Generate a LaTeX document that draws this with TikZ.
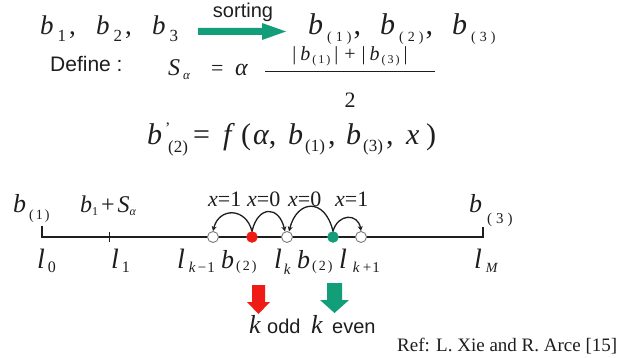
\documentclass[tikz,border=0pt]{standalone}
\usepackage{fontspec}
\setmainfont{Liberation Serif}
\newfontfamily\sansfont{Liberation Sans}
\usetikzlibrary{arrows.meta,positioning,calc}
\definecolor{Teal}{HTML}{119E78}
\definecolor{Signal}{HTML}{EE1C14}
\definecolor{Ring}{HTML}{7A7A7A}
\definecolor{Ink}{HTML}{1E1E1E}
\newcommand{\fsz}[1]{\fontsize{#1}{#1}\selectfont}
\newcommand{\dropsub}[3]{\raisebox{-#1pt}{\fsz{#2}#3}}
\tikzset{
  txt/.style={inner sep=0pt,anchor=base west,text=Ink},
  big/.style={txt,font=\fsz{30}},
  axis/.style={draw=Ink,line width=1.5pt},
  tick/.style={draw=Ink,line width=1pt},
  hole/.style={circle,draw=Ring,fill=white,line width=.9pt,minimum size=11pt,inner sep=0pt},
  oddpt/.style={circle,draw=Signal,fill=Signal,minimum size=11pt,inner sep=0pt},
  evenpt/.style={circle,draw=Teal,fill=Teal,minimum size=11pt,inner sep=0pt},
  hop/.style={-{Stealth[length=5pt,width=5pt]},draw=Ink,line width=1.3pt},
  fracbar/.style={draw=Ink,line width=.9pt}
}

\begin{document}
\begin{tikzpicture}[x=1pt,y=-1pt]
  \useasboundingbox[fill=white] (0,0) rectangle (621,358);

  % sorting step
  \node[txt,font=\fsz{27}] (b1) at (40,35) {\textit{b}\hspace{4pt}\dropsub{7}{17}{1}\hspace{3pt},};
  \node[txt,font=\fsz{27}] (b2) at (96,35) {\textit{b}\hspace{4pt}\dropsub{7}{17}{2}\hspace{3pt},};
  \node[txt,font=\fsz{27}] (b3) at (152,35) {\textit{b}\hspace{4pt}\dropsub{7}{17}{3}};
  \fill[Teal] (198,28) -- (262,28) -- (262,23) -- (286,31.5) -- (262,40) -- (262,35) -- (198,35) -- cycle;
  \node[txt,anchor=base,font=\sansfont\fsz{20}] (sorting) at (243,18) {sorting};
  \node[txt,font=\fsz{30}] (s1) at (308,35) {\textit{b}\hspace{4pt}\dropsub{7}{14}{(\hspace{4pt}1\hspace{4pt})}\hspace{2pt},};
  \node[txt,font=\fsz{30}] (s2) at (380,35) {\textit{b}\hspace{4pt}\dropsub{7}{14}{(\hspace{4pt}2\hspace{4pt})}\hspace{2pt},};
  \node[txt,font=\fsz{30}] (s3) at (452,35) {\textit{b}\hspace{4pt}\dropsub{7}{14}{(\hspace{4pt}3\hspace{4pt})}};

  % step size
  \node[txt,font=\sansfont\fsz{21}] (define) at (50,72) {Define :};
  \node[txt,font=\fsz{24}] (S) at (168,76) {\textit{S}\hspace{3pt}\dropsub{4}{13}{\textit{α}}};
  \node[txt,font=\fsz{22}] (eq1) at (211,76) {=};
  \node[txt,font=\fsz{24}] (alpha) at (235,76) {\textit{α}};
  \coordinate (barL) at (265,71);
  \coordinate (barR) at (435,71);
  \draw[fracbar] (barL) -- (barR);
  \node[txt,anchor=base,font=\fsz{20}] (num) at (350,61) {|\hspace{4pt}\textit{b}\hspace{2pt}\dropsub{3}{12}{(\hspace{2pt}1\hspace{2pt})}\hspace{4pt}|\hspace{6pt}+\hspace{6pt}|\hspace{4pt}\textit{b}\hspace{2pt}\dropsub{3}{12}{(\hspace{2pt}3\hspace{2pt})}\hspace{4pt}|};
  \node[txt,anchor=base,font=\fsz{22}] (den) at (350,108) {2};

  % new value
  \node[big] (bn) at (147,145) {\textit{b}};
  \node[txt,font=\fsz{16}] (prime) at (165,134) {'};
  \node[txt,font=\fsz{17}] (bnsub) at (168,153) {(2)};
  \node[big] (eq2) at (193,145) {=};
  \node[big] (fn) at (223,145) {\textit{f}};
  \node[big] (lpar) at (241,145) {(};
  \node[big] (fa) at (253,145) {\textit{α},};
  \node[big] (fb1) at (288,145) {\textit{b}\hspace{2pt}\dropsub{7}{17}{(1)}\hspace{3pt},};
  \node[big] (fb3) at (346,145) {\textit{b}\hspace{2pt}\dropsub{7}{17}{(3)}\hspace{3pt},};
  \node[big] (fx) at (406,145) {\textit{x}};
  \node[big] (rpar) at (426,145) {)};

  % number line
  \coordinate (l0) at (42,237);
  \coordinate (l0top) at (42,226);
  \coordinate (lM) at (483,237);
  \coordinate (lMtop) at (483,227);
  \coordinate (l1top) at (109,232);
  \coordinate (l1bot) at (109,242);
  \draw[axis] (l0top) -- (l0) -- (lM) -- (lMtop);
  \draw[tick] (l1top) -- (l1bot);
  \node[hole] (lkm) at (213,237) {};
  \node[oddpt] (bodd) at (252,237) {};
  \node[hole] (lk) at (287,237) {};
  \node[evenpt] (beven) at (333,237) {};
  \node[hole] (lkp) at (361,237) {};
  \draw[hop] (bodd.north) .. controls +(-6,-24) and +(6,-24) .. (lkm.north);
  \draw[hop] (bodd.north) .. controls +(6,-26) and +(-6,-26) .. (lk.110);
  \draw[hop] (beven.north) .. controls +(-8,-34) and +(8,-32) .. (lk.70);
  \draw[hop] (beven.north) .. controls +(5,-18) and +(-3,-18) .. (lkp.north);

  \node[txt,font=\fsz{22}] (xa) at (208,207) {\textit{x}=1};
  \node[txt,font=\fsz{22}] (xb) at (247,207) {\textit{x}=0};
  \node[txt,font=\fsz{22}] (xc) at (288,207) {\textit{x}=0};
  \node[txt,font=\fsz{22}] (xd) at (335,207) {\textit{x}=1};

  \node[txt,font=\fsz{26}] (lab0) at (13,212) {\textit{b}\hspace{3pt}\dropsub{8}{14}{(\hspace{2pt}1\hspace{2pt})}};
  \node[txt,font=\fsz{24}] (lab1) at (80,212) {\textit{b}\dropsub{3}{12}{1}\hspace{3pt}+\hspace{3pt}\textit{S}\dropsub{4}{12}{\textit{α}}};
  \node[txt,font=\fsz{26}] (labM) at (469,212) {\textit{b}\hspace{5pt}\dropsub{11}{15}{(\hspace{4pt}3\hspace{4pt})}};

  \node[txt,font=\fsz{28}] (tl0) at (37,268) {\textit{l}\hspace{3pt}\dropsub{5}{16}{0}};
  \node[txt,font=\fsz{28}] (tl1) at (111,268) {\textit{l}\hspace{3pt}\dropsub{5}{16}{1}};
  \node[txt,font=\fsz{28}] (tlkm) at (177,268) {\textit{l}\hspace{4pt}\dropsub{5}{15}{\textit{k}\hspace{2pt}−\hspace{1pt}1}};
  \node[txt,font=\fsz{26}] (tbo) at (221,268) {\textit{b}\hspace{2pt}\dropsub{2}{14}{(\hspace{2pt}2\hspace{2pt})}};
  \node[txt,font=\fsz{28}] (tlk) at (274,268) {\textit{l}\hspace{2pt}\dropsub{6}{15}{\textit{k}}};
  \node[txt,font=\fsz{26}] (tbe) at (297,268) {\textit{b}\hspace{2pt}\dropsub{2}{14}{(\hspace{2pt}2\hspace{2pt})}};
  \node[txt,font=\fsz{28}] (tlkp) at (339,268) {\textit{l}\hspace{6pt}\dropsub{5}{15}{\textit{k}\hspace{3pt}+\hspace{1pt}1}};
  \node[txt,font=\fsz{28}] (tlM) at (474,268) {\textit{l}\hspace{4pt}\dropsub{4}{14}{\textit{M}}};

  % parity
  \fill[Signal] (252,285) -- (265,285) -- (265,302) -- (270,302) -- (258.5,314) -- (247,302) -- (252,302) -- cycle;
  \fill[Teal] (327,283) -- (342,283) -- (342,300) -- (349,300) -- (334.5,313) -- (320,300) -- (327,300) -- cycle;
  \node[txt,font=\fsz{26}] (kodd) at (249,333) {\textit{k}};
  \node[txt,font=\sansfont\fsz{20}] (odd) at (267,333) {odd};
  \node[txt,font=\fsz{26}] (keven) at (311,333) {\textit{k}};
  \node[txt,font=\sansfont\fsz{20}] (even) at (332,333) {even};
  \node[txt,font=\fsz{19}] (ref) at (397,351) {Ref: L. Xie and R. Arce [15]};
\end{tikzpicture}
\end{document}
